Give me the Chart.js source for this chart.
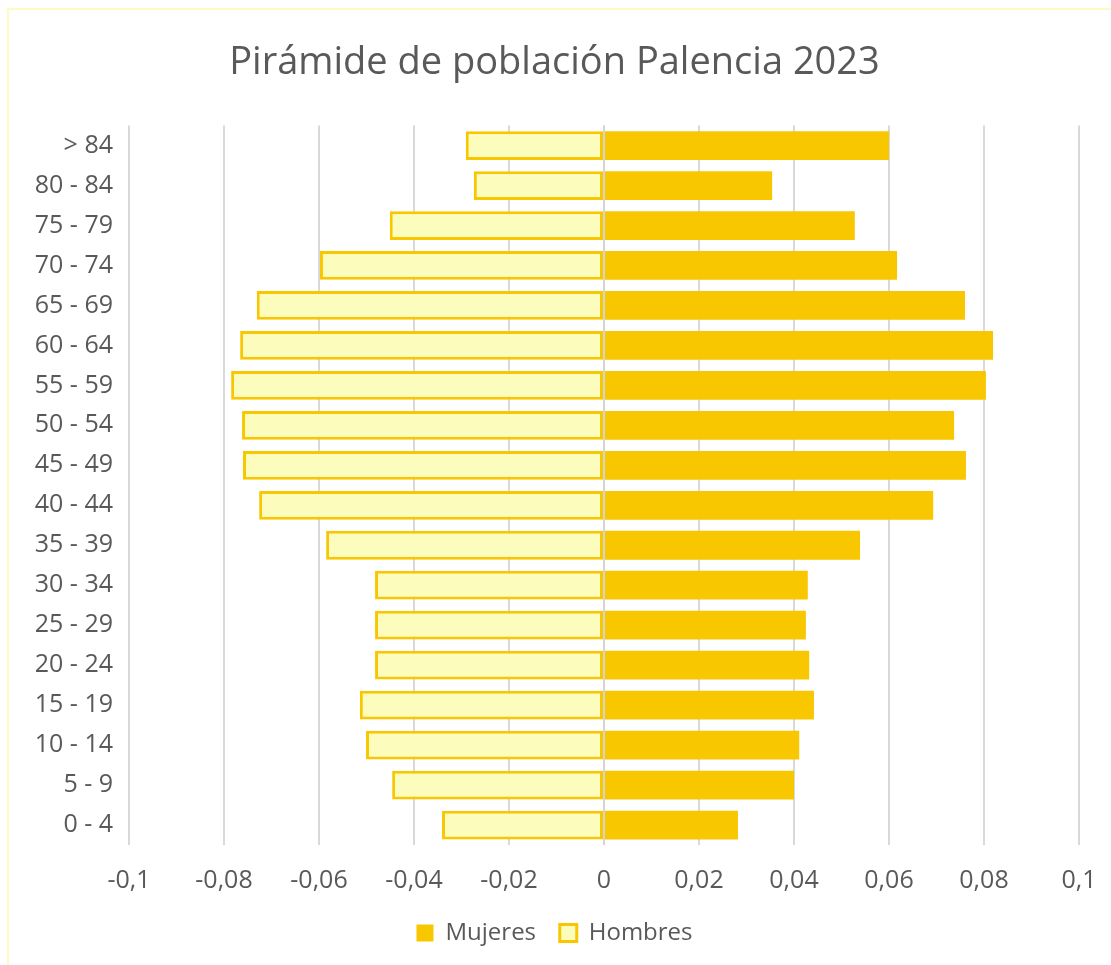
<!DOCTYPE html>
<html>
<head>
<meta charset="utf-8">
<script src="https://cdn.jsdelivr.net/npm/chart.js@4"></script>
<style>
  html, body { margin: 0; padding: 0; background: #fff; overflow: hidden; }
  #wrap { position: relative; width: 1111px; height: 965px; }
  #frame {
    position: absolute; left: 7px; top: 8px; width: 1120px; height: 980px;
    border-left: 2px solid #fbfbc4; border-top: 2px solid #fbfbc4;
    pointer-events: none;
  }
  canvas { position: absolute; left: 0; top: 0; }
</style>
</head>
<body>
<div id="wrap">
  <canvas id="chart" width="1111" height="965"></canvas>
  <div id="frame"></div>
</div>
<script>
// age groups, top to bottom
const grupos = ['> 84', '80 - 84', '75 - 79', '70 - 74', '65 - 69', '60 - 64', '55 - 59',
  '50 - 54', '45 - 49', '40 - 44', '35 - 39', '30 - 34', '25 - 29', '20 - 24',
  '15 - 19', '10 - 14', '5 - 9', '0 - 4'];

const mujeres = [0.0600, 0.0354, 0.0528, 0.0617, 0.0760, 0.0819, 0.0804, 0.0737, 0.0762,
  0.0693, 0.0539, 0.0429, 0.0425, 0.0432, 0.0442, 0.0411, 0.0400, 0.0282];

const hombres = [-0.0291, -0.0274, -0.0451, -0.0598, -0.0731, -0.0766, -0.0785, -0.0762, -0.0760,
  -0.0726, -0.0585, -0.0482, -0.0482, -0.0482, -0.0514, -0.0501, -0.0446, -0.0341];

const fmt = v => String(Math.round(v * 100) / 100).replace('.', ',');

// zero line sits on top of the bars
const zeroLine = {
  id: 'zeroLine',
  afterDatasetsDraw(chart) {
    const { ctx, chartArea, scales } = chart;
    const x = scales.x.getPixelForValue(0);
    ctx.save();
    ctx.strokeStyle = '#d4d4d4';
    ctx.lineWidth = 2;
    ctx.beginPath();
    ctx.moveTo(x, chartArea.top);
    ctx.lineTo(x, chartArea.bottom);
    ctx.stroke();
    ctx.restore();
  }
};

Chart.defaults.font.family = '"Open Sans", "Noto Sans", sans-serif';
Chart.defaults.color = '#595959';

new Chart(document.getElementById('chart'), {
  type: 'bar',
  data: {
    labels: grupos,
    datasets: [
      {
        label: 'Mujeres',
        data: mujeres,
        backgroundColor: '#f9c700',
        borderColor: '#f9c700',
        borderWidth: 0
      },
      {
        label: 'Hombres',
        data: hombres,
        backgroundColor: '#fcfcbc',
        borderColor: '#f9c700',
        borderWidth: 3,
        borderSkipped: false
      }
    ]
  },
  options: {
    indexAxis: 'y',
    responsive: false,
    animation: false,
    categoryPercentage: 1,
    barPercentage: 0.72,
    layout: { padding: { left: 30, right: 32, top: 0, bottom: 10 } },
    plugins: {
      title: {
        display: true,
        text: 'Pirámide de población Palencia 2023',
        font: { size: 38, weight: 'normal' },
        color: '#595959',
        padding: { top: 40, bottom: 40 }
      },
      legend: {
        position: 'bottom',
        labels: {
          boxWidth: 17,
          boxHeight: 17,
          font: { size: 24, lineHeight: 1 },
          padding: 5,
          generateLabels(chart) {
            const items = Chart.defaults.plugins.legend.labels.generateLabels(chart);
            items[0].text += '   ';
            return items;
          }
        }
      },
      tooltip: { enabled: false }
    },
    scales: {
      x: {
        stacked: true,
        min: -0.1,
        max: 0.1,
        ticks: { stepSize: 0.02, callback: v => fmt(v), font: { size: 25, lineHeight: 1 }, padding: 23, color: '#595959' },
        grid: { color: '#d9d9d9', lineWidth: 2, drawTicks: false },
        border: { display: false },
        afterFit(scale) { scale.paddingLeft = 0; scale.paddingRight = 0; }
      },
      y: {
        stacked: true,
        ticks: { font: { size: 25 }, padding: 16, color: '#595959' },
        grid: { display: false, drawTicks: false },
        border: { display: false },
        afterFit(scale) { scale.width = 99; }
      }
    }
  },
  plugins: [zeroLine]
});
</script>
</body>
</html>
